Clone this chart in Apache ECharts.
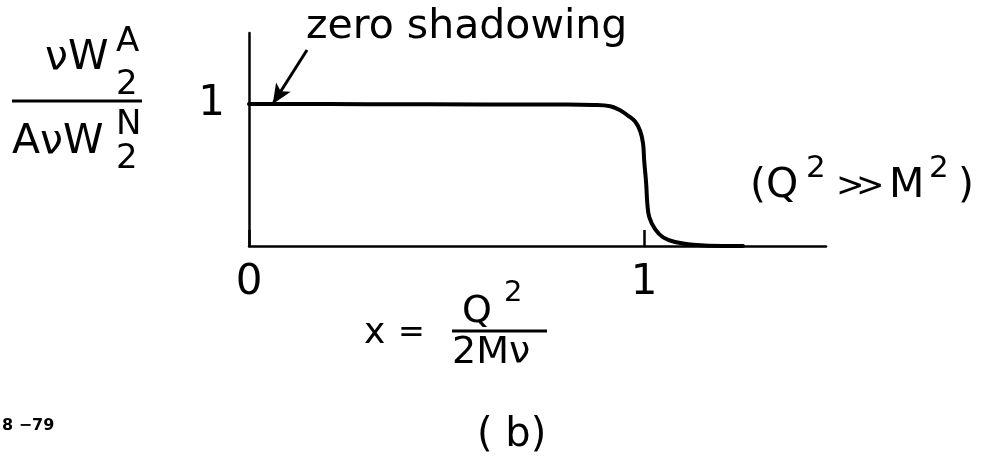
<!DOCTYPE html>
<html>
<head>
<meta charset="utf-8">
<script src="https://cdn.jsdelivr.net/npm/echarts@6/dist/echarts.min.js"></script>
<style>
  html, body { margin: 0; padding: 0; background: #fff; }
  #chart { width: 989px; height: 461px; }
</style>
</head>
<body>
<div id="chart"></div>
<script>
// Ratio of nuclear to nucleon structure function versus x = Q²/2Mν
const xValues = [0, 0.30, 0.60, 0.787, 0.871, 0.914, 0.939, 0.959, 0.977, 0.990, 0.997, 1.000, 1.005, 1.008, 1.013, 1.028, 1.048, 1.078, 1.124, 1.20, 1.25];
const ratioValues = [1.0, 0.999, 0.997, 0.996, 0.993, 0.984, 0.956, 0.918, 0.876, 0.808, 0.723, 0.60, 0.438, 0.295, 0.202, 0.117, 0.061, 0.028, 0.009, 0.0, 0.0];
const xTickLabels = ['0', '1'];
const yTickLabels = ['1'];
const arrowTarget = [0.06, 1.0];

const FONT = 'DejaVu Sans';
const INK = '#000';

const chart = echarts.init(document.getElementById('chart'), null, { renderer: 'canvas' });

const curve = xValues.map((x, i) => [x, ratioValues[i]]);

function txt(text, x, y, size, weight) {
  return {
    type: 'text',
    x: x, y: y,
    style: {
      text: text,
      fontFamily: FONT,
      fontSize: size,
      fontWeight: weight || 'normal',
      fill: INK,
      align: 'left',
      verticalAlign: 'middle'
    }
  };
}

function rule(x1, x2, y) {
  return {
    type: 'line',
    shape: { x1: x1, y1: y, x2: x2, y2: y },
    style: { stroke: INK, lineWidth: 3 }
  };
}

chart.setOption({
  animation: false,
  backgroundColor: '#fff',
  grid: { left: 249, right: 163, top: 33, bottom: 215, containLabel: false },
  xAxis: {
    type: 'value',
    min: 0, max: 1.46, interval: 1,
    splitLine: { show: false },
    axisLine: { onZero: true, lineStyle: { color: INK, width: 2.5 } },
    axisTick: { show: true, inside: true, length: 16, lineStyle: { color: INK, width: 2.5 } },
    axisLabel: {
      showMaxLabel: false,
      margin: 16,
      fontFamily: FONT, fontSize: 42, color: INK,
      formatter: v => {
        const k = Math.round(v);
        return (Math.abs(v - k) < 1e-6 && xTickLabels[k] !== undefined) ? xTickLabels[k] : '';
      }
    }
  },
  yAxis: {
    type: 'value',
    min: 0, max: 1.5, interval: 1,
    splitLine: { show: false },
    axisLine: { show: true, lineStyle: { color: INK, width: 2.5 } },
    axisTick: { show: false },
    axisLabel: {
      margin: 24,
      fontFamily: FONT, fontSize: 42, color: INK,
      formatter: v => (Math.abs(v - 1) < 1e-6 ? yTickLabels[0] : '')
    }
  },
  series: [{
    type: 'line',
    data: curve,
    smooth: 0.4,
    showSymbol: false,
    lineStyle: { color: INK, width: 4, cap: 'round', join: 'round' },
    markLine: {
      silent: true,
      animation: false,
      lineStyle: { color: INK, width: 3, type: 'solid' },
      label: { show: false },
      symbol: ['none', 'arrow'],
      symbolSize: [13, 20],
      data: [[{ x: 307, y: 50 }, { coord: arrowTarget }]]
    }
  }],
  graphic: [
    // y-axis quantity: νW2^A / AνW2^N
    txt('νW', 45, 58, 41),
    txt('A', 116, 42, 34),
    txt('2', 116, 85, 34),
    rule(12, 142, 101),
    txt('AνW', 12, 142, 41),
    txt('N', 116, 125, 34),
    txt('2', 116, 159, 34),

    // annotation
    txt('zero shadowing', 306, 27, 41),

    // regime note
    txt('(Q', 750, 186, 41),
    txt('2', 806, 169, 31),
    txt('>', 836, 187, 34),
    txt('>', 856, 187, 34),
    txt('M', 889, 186, 41),
    txt('2', 929, 169, 31),
    txt(')', 958, 186, 41),

    // x-axis quantity: x = Q² / 2Mν
    txt('x', 364, 334, 36),
    txt('=', 398, 334, 32),
    txt('Q', 462, 312, 38),
    txt('2', 504, 293, 29),
    rule(452, 547, 331),
    txt('2Mν', 452, 353, 38),

    // panel caption and figure code
    txt('( b)', 477, 436, 40),
    txt('8 −79', 2, 426, 16, 'bold')
  ]
});
</script>
</body>
</html>
